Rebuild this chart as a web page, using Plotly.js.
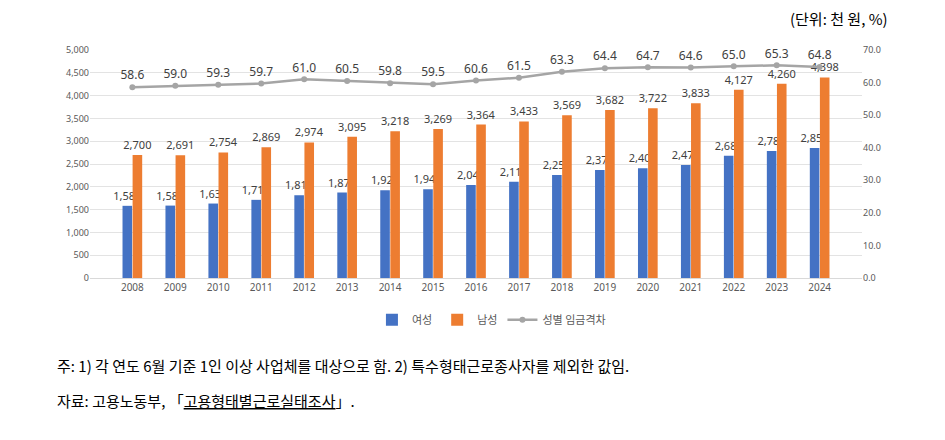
<!DOCTYPE html>
<html><head><meta charset="utf-8">
<script src="https://cdn.plot.ly/plotly-3.0.1.min.js"></script>
<style>body{margin:0;background:#fff}#plot{width:945px;height:440px}</style>
</head><body><div id="plot"></div>
<script>
const years = ['2008','2009','2010','2011','2012','2013','2014','2015','2016','2017','2018','2019','2020','2021','2022','2023','2024'];
const female = [1583,1588,1633,1714,1815,1873,1925,1944,2040,2112,2259,2371,2408,2476,2683,2783,2851];
const male = [2700,2691,2754,2869,2974,3095,3218,3269,3364,3433,3569,3682,3722,3833,4127,4260,4398];
const gap = [58.6,59.0,59.3,59.7,61.0,60.5,59.8,59.5,60.6,61.5,63.3,64.4,64.7,64.6,65.0,65.3,64.8];

const fmt = v => v.toLocaleString('en-US');
const lblFont = { family: 'Noto Sans, sans-serif', size: 11, color: '#404040' };
const kr = 'Noto Sans CJK KR, sans-serif';

const data = [
  { type: 'bar', name: '여성', x: years, y: female, marker: { color: '#4472C4' },
    text: female.map(fmt), textposition: 'outside', constraintext: 'none', textfont: lblFont, cliponaxis: false },
  { type: 'bar', name: '남성', x: years, y: male, marker: { color: '#ED7D31' },
    text: male.map(fmt), textposition: 'outside', constraintext: 'none', textfont: lblFont, cliponaxis: false },
  { type: 'scatter', mode: 'lines+markers+text', name: '성별 임금격차', x: years, y: gap, yaxis: 'y2',
    line: { color: '#A5A5A5', width: 2.5 }, marker: { color: '#A5A5A5', size: 6 },
    text: gap.map(v => v.toFixed(1)), textposition: 'top center',
    textfont: { family: 'Noto Sans, sans-serif', size: 12, color: '#404040' }, cliponaxis: false }
];

const layout = {
  width: 945, height: 440,
  margin: { l: 90, r: 83, t: 50, b: 162 },
  bargap: 0.53, bargroupgap: 0.05,
  uniformtext: { mode: false },
  font: { family: kr, color: '#595959' },
  xaxis: { type: 'category', dtick: 1, tickfont: { size: 10, family: 'Noto Sans, sans-serif', color: '#595959' }, showline: true, linecolor: '#D9D9D9' },
  yaxis: { range: [0, 5000], dtick: 500, tickformat: ',', showgrid: true, gridcolor: '#E3E3E3', zeroline: false,
    tickfont: { size: 9, family: 'Noto Sans, sans-serif', color: '#595959' } },
  yaxis2: { overlaying: 'y', side: 'right', range: [0, 70], dtick: 10, tickformat: '.1f', showgrid: false, zeroline: false,
    tickfont: { size: 9, family: 'Noto Sans, sans-serif', color: '#595959' } },
  legend: { orientation: 'h', x: 0.52, xanchor: 'center', y: -0.12, yanchor: 'top', font: { size: 11, family: kr, color: '#595959' } },
  showlegend: true,
  annotations: [
    { xref: 'paper', yref: 'paper', x: 1.036, y: 1, yshift: 32, xanchor: 'right', yanchor: 'middle', showarrow: false,
      text: '(단위: 천 원, %)', font: { size: 15, family: kr, color: '#000' } },
    { xref: 'paper', yref: 'paper', x: -0.045, y: 0, yshift: -87, xanchor: 'left', yanchor: 'middle', showarrow: false,
      text: '주: 1) 각 연도 6월 기준 1인 이상 사업체를 대상으로 함. 2) 특수형태근로종사자를 제외한 값임.', font: { size: 15, family: kr, color: '#000' } },
    { xref: 'paper', yref: 'paper', x: -0.045, y: 0, yshift: -122, xanchor: 'left', yanchor: 'middle', showarrow: false,
      text: '자료: 고용노동부, 「<u>고용형태별근로실태조사</u>」.', font: { size: 15, family: kr, color: '#000' } }
  ]
};

Plotly.newPlot('plot', data, layout, { displayModeBar: false });
</script></body></html>
